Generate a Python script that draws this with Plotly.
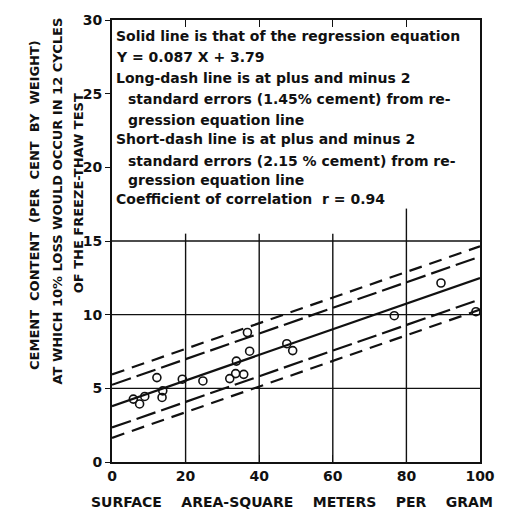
import plotly.graph_objects as go

# Measured points: surface area (m^2/g) vs cement content (% by weight)
surface_area = [5.8, 7.5, 8.9, 12.2, 13.8, 13.6, 19.1, 24.7, 32.0, 33.8, 33.6,
                35.8, 36.8, 37.4, 47.5, 49.1, 76.7, 89.4, 98.9]
cement_content = [4.27, 3.94, 4.45, 5.73, 4.83, 4.38, 5.62, 5.50, 5.66, 6.85, 6.00,
                  5.95, 8.79, 7.52, 8.03, 7.56, 9.93, 12.15, 10.20]

# Regression equation Y = 0.087 X + 3.79 and its error bands
slope = 0.087
intercept = 3.79
long_dash_offset = 1.45
short_dash_offset = 2.15
line_x = [0, 100]

x_ticks = [0, 20, 40, 60, 80, 100]
y_ticks = [0, 5, 10, 15, 20, 25, 30]

legend_lines = [
    ("Solid line is that of the regression equation", 0),
    ("Y = 0.087 X + 3.79", 0),
    ("Long-dash line is at plus and minus 2", 0),
    ("standard errors (1.45% cement) from re-", 1),
    ("gression equation line", 1),
    ("Short-dash line is at plus and minus 2", 0),
    ("standard errors (2.15 % cement) from re-", 1),
    ("gression equation line", 1),
    ("Coefficient of correlation  r = 0.94", 0),
]

SP2 = "\u00a0\u00a0"
SP4 = "\u00a0\u00a0\u00a0\u00a0"
y_title_lines = [
    SP2.join("CEMENT CONTENT (PER CENT BY WEIGHT)".split(" ")),
    "AT WHICH 10% LOSS WOULD OCCUR IN 12 CYCLES",
    "OF THE FREEZE-THAW TEST",
]
x_title = SP4.join("SURFACE AREA-SQUARE METERS PER GRAM".split(" "))

FONT = "DejaVu Sans"
INK = "#111111"


def fit(x, off=0.0):
    return [slope * v + intercept + off for v in x]


fig = go.Figure()

# regression line
fig.add_trace(go.Scatter(x=line_x, y=fit(line_x), mode="lines",
                         line=dict(color=INK, width=2.2), showlegend=False))
# long-dash band
for s in (1, -1):
    fig.add_trace(go.Scatter(x=line_x, y=fit(line_x, s * long_dash_offset), mode="lines",
                             line=dict(color=INK, width=2.2, dash="20px,6px"),
                             showlegend=False))
# short-dash band
for s in (1, -1):
    fig.add_trace(go.Scatter(x=line_x, y=fit(line_x, s * short_dash_offset), mode="lines",
                             line=dict(color=INK, width=2.2, dash="13px,8px"),
                             showlegend=False))
# observations
fig.add_trace(go.Scatter(x=surface_area, y=cement_content, mode="markers",
                         marker=dict(symbol="circle-open", size=8, color=INK,
                                     line=dict(width=1.6)),
                         cliponaxis=True, showlegend=False))

# grid: horizontal rules at 5, 10, 15; vertical rules stop below the note box
shapes = []
for yv in (5, 10, 15):
    shapes.append(dict(type="line", xref="x", yref="y", x0=0, x1=100, y0=yv, y1=yv,
                       line=dict(color=INK, width=1.4), layer="below"))
for xv, top in ((20, 15.5), (40, 15.5), (60, 15.5), (80, 17.2)):
    shapes.append(dict(type="line", xref="x", yref="y", x0=xv, x1=xv, y0=0, y1=top,
                       line=dict(color=INK, width=1.4), layer="below"))

annotations = []
# note box text
PLOT_L, PLOT_T, PLOT_W, PLOT_H = 112, 14, 375, 448
line_px = [30, 52, 73, 94, 115, 135, 157, 176, 195]
for (txt, indent), py in zip(legend_lines, line_px):
    px = 114 if indent == 0 else 126
    annotations.append(dict(
        text=txt, xref="paper", yref="paper",
        x=(px - PLOT_L) / PLOT_W, y=(PLOT_T + PLOT_H - py) / PLOT_H,
        xanchor="left", yanchor="middle", showarrow=False,
        font=dict(family=FONT, size=14, color=INK, weight="bold")))

# y-axis title (three rotated lines)
for txt, px, py in zip(y_title_lines, (33, 57, 78), (201, 198, 190)):
    annotations.append(dict(
        text=txt, xref="paper", yref="paper",
        x=(px - PLOT_L) / PLOT_W, y=(PLOT_T + PLOT_H - py) / PLOT_H,
        xanchor="center", yanchor="middle", textangle=-90, showarrow=False,
        font=dict(family=FONT, size=13, color=INK, weight="bold")))

# x-axis title
annotations.append(dict(
    text=x_title, xref="paper", yref="paper",
    x=(295 - PLOT_L) / PLOT_W, y=(PLOT_T + PLOT_H - 503) / PLOT_H,
    xanchor="center", yanchor="middle", showarrow=False,
    font=dict(family=FONT, size=14, color=INK, weight="bold")))

fig.update_layout(
    width=507, height=518,
    margin=dict(l=PLOT_L, r=507 - PLOT_L - PLOT_W, t=PLOT_T, b=518 - PLOT_T - PLOT_H),
    paper_bgcolor="white", plot_bgcolor="white",
    shapes=shapes, annotations=annotations, showlegend=False,
)
fig.update_xaxes(range=[0, 100], tickvals=x_ticks, ticktext=[str(v) for v in x_ticks],
                 showgrid=False, zeroline=False, showline=True, linecolor=INK, linewidth=2,
                 mirror="ticks", ticks="inside", ticklen=7, tickwidth=1.4, tickcolor=INK,
                 tickfont=dict(family=FONT, size=14, color=INK, weight="bold"))
fig.update_yaxes(range=[0, 30], tickvals=y_ticks, ticktext=[str(v) for v in y_ticks],
                 showgrid=False, zeroline=False, showline=True, linecolor=INK, linewidth=2,
                 mirror=True, ticks="outside", ticklen=5, tickwidth=1.4, tickcolor=INK,
                 tickfont=dict(family=FONT, size=14, color=INK, weight="bold"))

fig.write_html("out.html")
